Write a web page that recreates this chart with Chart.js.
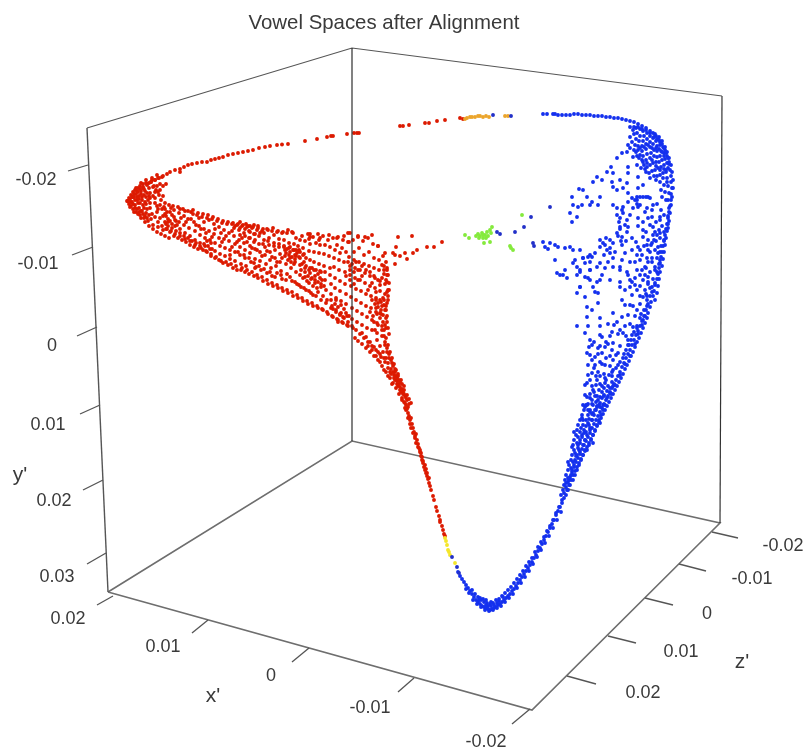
<!DOCTYPE html>
<html><head><meta charset="utf-8">
<style>html,body{margin:0;padding:0;background:#fff}canvas{display:block}</style>
<script src="https://cdn.jsdelivr.net/npm/chart.js@4/dist/chart.umd.min.js"></script>
</head><body><canvas id="c" width="804" height="754"></canvas>
<script>
const titleText = "Vowel Spaces after Alignment";
const redArc = [128,201,133,197,138,192,143,188,147,185,151,182,155,180,159,178,163,176,167,174,170,172,175,170,180,169,180,172,184,167,188,165,192,164,197,163,202,162,207,162,211,160,215,159,219,158,223,157,228,155,233,154,238,153,243,152,248,151,253,150,259,148,265,147,270,146,277,145,282,144.5,288,144,305,141,317,139,327,137,331,136,333,136,347,134,354,133,357,133,359,133,400,126,403,126,409,125,425,123,429,123,437,121,445,120,460,118,463,119];
const redTip = [128,201,129,204,130,199,131,206,132,197,132,202,133,209,134,194,135,200,135,205,136,212,137,191,137,197,138,203,139,208,140,189,140,215,141,194,142,200,142,211,143,187,143,205,144,218,145,191,146,197,147,184,147,209,148,221,149,188,150,193,150,203,151,182,152,214,153,225,154,186,155,180,155,198,156,190,157,206,158,227,158,178,160,184,161,200,162,177,163,230,164,207,165,214,130,207,134,212,138,214,141,218,145,222,149,226,153,229,157,232,161,234,165,236,169,238,146,204,150,208,153,196,158,192,163,186,166,184,150,198,144,195,139,199,136,188,141,183,146,180,152,178,157,175,160,190,163,196,160,205,157,212,160,218,165,222,168,226,172,228,176,231,180,233,184,236,188,238,192,241,196,243,200,246];
const redTipExtra = [127,201,129,198,131,195,133,192,135,190,138,188,140,186,143,184,146,183,149,183,152,180,131,202,133,204,135,208,137,209,139,212,141,211,143,214,145,216,147,218,149,215,136,194,139,196,141,191,144,189,147,193,149,196,148,200,145,202,142,197,140,203,137,200,134,197,144,208,146,213,151,219,155,217,158,222,162,226,166,229,170,232,174,236,178,238,182,240,186,242,190,245,194,247,198,249,155,203,158,209,155,192,153,187,157,186,159,195,162,209,167,212,163,216];
const redFan = [165,203,165,209,166,216,166,224,167,229,169,205,170,212,170,221,171,231,173,206,174,210,174,217,175,226,175,234,178,207,179,213,179,222,180,229,180,236,183,209,184,216,184,225,185,233,185,239,188,211,188,219,189,228,190,236,190,241,193,210,193,214,194,222,195,231,195,240,195,245,198,213,199,218,199,226,200,235,200,243,201,248,203,214,204,222,204,229,205,238,205,246,206,251,208,215,209,220,209,231,210,240,210,249,211,254,213,217,214,224,214,234,215,243,215,251,216,257,218,219,219,227,219,238,220,246,220,254,221,261,223,221,224,230,224,239,225,248,225,256,226,262,228,222,229,233,229,241,230,250,230,259,231,264,233,223,234,228,234,236,235,244,235,252,235,261,236,266,238,224,239,230,239,240,240,247,240,255,241,264,242,268,243,225,244,233,244,243,245,250,245,258,246,266,247,270,248,226,249,231,249,238,250,246,250,253,251,262,252,272,253,227,254,234,254,242,255,249,255,259,256,267,257,275,258,228,259,236,259,244,260,252,260,261,261,270,262,277,263,229,264,233,264,240,265,247,265,255,266,264,267,273,267,280,268,230,269,238,269,245,270,252,270,260,271,268,272,276,272,283,273,228,274,235,274,243,275,250,275,258,276,266,277,273,277,285,278,231,279,239,279,247,280,254,280,262,281,271,282,279,282,288,283,232,284,240,284,246,285,250,285,256,286,264,287,274,287,290,288,230,289,243,289,248,290,252,290,258,291,268,292,281,292,292,293,233,294,244,294,250,295,255,295,262,296,272,297,284,297,295,298,246,299,251,299,257,300,265,300,275,301,287,302,298,303,248,304,254,304,262,305,268,305,277,306,290,307,301,308,234,309,239,309,251,310,260,310,268,310,273,311,279,311,293,312,303,313,237,314,252,314,262,314,270,315,276,315,283,316,296,317,306,318,234,319,240,319,253,319,264,320,271,320,278,321,287,321,300,322,309,323,236,324,254,324,266,325,272,325,280,326,290,326,303,327,312,328,240,329,235,329,256,330,268,330,275,331,284,331,294,332,306,332,316,333,238,334,258,334,267,335,278,335,288,336,298,336,310,337,319,338,237,339,260,339,270,340,281,340,291,341,301,341,313,342,322,343,240,344,236,344,262,345,272,345,284,346,294,346,304,347,316,347,325,348,233,349,242,349,257,350,266,350,275,351,286,351,297,352,308,352,319,353,328,353,240,354,252,354,260,355,268,355,278,356,289,356,300,357,311,357,322,358,236,359,248,359,262,360,270,360,280,361,291,361,303,362,314,362,325,363,241,364,255,364,264,365,273,365,283,366,294,366,306,367,317,367,328,368,238,369,252,369,266,370,276,370,286,371,296,371,308,372,320,372,330,373,244,374,258,374,268,375,278,375,288,376,300,376,312,377,323,377,333,378,246,379,260,379,270,380,281,380,291,381,302,381,314,382,326,382,336,383,256,384,266,384,274,385,284,385,294,386,306,386,318,386,328,387,270,387,282,388,290,388,300];
const redLowerEdge = [203,250,207,252,211,256,215,258,219,260,223,263,228,265,233,268,237,270,241,270,245,272,249,274,254,276,258,278,263,281,268,284,273,286,278,288,283,291,288,293,293,296,298,298,303,301,308,304,313,306,318,308,323,310,328,314,333,317,338,320,343,323,348,326];
const redUpperEdge = [180,209,185,211,191,212,197,215,202,217,207,218,212,219,217,221,222,223,227,224,232,224,237,225,242,226,247,227,252,228,257,230,262,231,267,229,272,231,277,232,282,233,287,233,292,232,310,237,320,238,337,238,350,233,348,242];
const redClumps = [302,264,306,266,309,270,312,268,316,270,318,274,321,272,308,276,312,278,315,280,318,282,322,280,305,272,301,270,309,283,313,286,317,288,321,284,324,286,303,278,307,281,284,247,287,249,290,247,293,250,286,253,289,255,292,257,295,259,288,260,291,262,294,264,297,253,299,250,235,226,240,228,245,229,250,232,255,234,260,233,255,240,250,238,245,236,240,235,331,300,335,304,338,307,341,305,344,309,336,312,340,315,343,317,346,313,349,316,333,309,338,322,372,300,375,304,378,307,381,310,377,314,373,316,380,318,383,315,384,305,370,312,374,322,378,325,382,330,385,325,375,330,348,262,352,264,356,262,350,270,354,272,358,270,362,266,366,270,362,276,358,280,354,284,350,280,346,276,370,272,374,276,378,280,372,283,368,290,376,292,380,285,382,278,384,270,386,280,387,292,383,298,386,262,387,268,388,275,389,283,389,290,388,296,387,303,386,310,387,316,387,322,388,328,389,334,168,222,172,224,175,220,177,225,204,244,208,246,211,243,212,249,207,241,240,222,246,224,250,226,254,225,258,226,296,250,300,252,303,255,300,258,296,256,306,258,376,298,380,300,384,300,378,303,382,306,376,308,380,313,385,310];
const redFill = [215,229,221,233,226,236,232,231,237,242,242,238,247,242,252,248,257,250,262,256,267,251,272,257,277,262,282,258,263,244,268,241,274,246,279,244,232,247,238,252,244,255,249,258,254,263,259,266,264,269,270,272,275,277,281,275,286,280,290,277,295,282,299,285,304,288,309,291,313,295,318,292,323,296,327,300,331,308,336,300,255,268,230,255,222,242,212,237,206,233,201,229,196,225,191,219,186,222,181,218,176,221,172,215,168,219,171,208,337,245,342,248,346,252,340,253,335,250,330,247,325,245,320,245,316,243,310,244,305,241,300,240,296,238,302,236,310,234];
const redWing = [398,237,412,236,442,242,434,247,427,247,417,250,413,253,405,253,400,256,395,255,393,253,385,253,396,247,378,246,372,235,365,237,358,237,407,259,395,264,382,265,387,275];
const redRibbon = [355,338,358,341,362,344,366,348,370,352,374,356,378,360,382,366,386,372,390,378,393,383,396,388,399,394,402,398,362,333,366,337,370,342,374,347,378,352,381,357,385,362,388,368,391,374,394,378,397,384,400,390,403,394,384,336,385,342,387,348,389,354,391,360,393,366,395,372,397,378,399,384,402,389,404,394,406,398,383,322,384,330,386,338,388,345,390,352,392,358,394,364,396,370,398,376,400,382,377,340,380,346,383,352,386,358,404,402,406,405,407,409,408,413,405,408,409,416,410,420,412,424,413,428,411,418,414,432,415,436,417,440,416,434,418,444,419,448,420,452,421,456,422,460,423,463,424,467,425,470,426,473,427,476,428,479,429,483,430,486,431,490,433,496,434,500,436,507,437,511,439,516,440,520,442,526,443,530,444,534];
const redRibbonFill = [340,314,344,318,348,322,352,326,356,330,360,334,364,338,368,342,372,346,376,350,380,354,384,358,388,363,391,369,394,375,397,381,400,387,403,392,405,396,407,400,409,404,402,400,405,403,385,345,387,352,389,358,392,363,395,369,398,374,401,380,404,386,406,410,408,418,410,424,411,428,413,433,415,438,416,443,418,447,420,450,421,453,422,457,423,461,425,465,426,469,427,473,429,478,390,372,393,372,396,376,399,380,402,384,404,390,407,395,409,399,411,403,408,407,395,380,398,386,401,392,392,384,388,376,384,370,380,362,376,356,372,350,368,346];
const blueArcBottom = [458,572,460,576,462,579,464,582,466,585,468,588,470,591,472,594,474,597,476,600,478,602,480,604,482,606,484,607,486,608,488,609,490,610,492,609,494,608,496,607,498,605,500,604,502,602,504,600,506,598,508,596,510,594,512,591,514,589,516,586,518,583,520,580,522,577,524,574,526,571,528,568,530,565,532,562,534,558,536,555,538,551,540,548,542,544,544,540,546,536,548,532,550,528,552,524,554,520,556,515,558,511,560,507,562,503,564,498,472,590,475,594,478,597,481,600,484,602,487,603,490,604,493,603,496,600,499,599,502,596,505,593,508,590,511,587,514,583,517,579,520,575,523,571,526,566,529,562,532,558,535,552,538,547,541,542,544,537,547,531,550,526,553,520,556,513,559,507,480,598,483,599,486,600,488,606,491,606,494,605,497,603,466,589,469,593,473,600,477,604,481,607,485,610,489,611,493,610,497,608,501,606,505,602,509,598,513,594,517,588,521,583,525,577,529,571,533,564,537,557,541,550,545,543,549,536,553,528,557,520,561,512,479,600,486,605,491,602,499,601,503,597];
const blueWedge = [561,495,566,495,563,490,568,490,564,485,570,485,565,480,569,480,573,480,566,475,571,475,575,475,568,470,572,470,577,470,569,465,574,465,579,465,571,460,575,460,581,460,572,455,577,455,583,455,574,450,579,450,585,450,587,450,573,445,578,445,583,445,589,445,574,440,580,440,585,440,591,440,576,435,582,435,587,435,593,435,577,430,584,430,590,430,595,430,578,425,583,425,589,425,597,425,580,420,586,420,592,420,599,420,582,415,588,415,594,415,601,415,584,410,590,410,596,410,603,410,583,405,587,405,593,405,599,405,605,405,568,462,575,453,572,447,578,437,574,432,581,428,586,432,588,423,582,418,590,412,585,407,596,402,590,398,600,397,594,392,604,388,596,385,590,380,600,376,606,380,612,382,594,368,600,362,606,358,592,360,612,350,606,342,598,348,594,342,589,347,566,483,568,478,571,468,573,462,576,456,578,448,580,443,582,437,584,433,586,426,589,419,592,414,595,410,597,407,600,403,602,398,604,396,607,391,610,388,613,386,588,404,592,400,595,396,599,390,602,386,605,378,609,375,613,370,616,368,620,362,623,358,626,350,629,345,631,340,634,332,637,328,640,318,644,310,647,300];
const blueRim = [567,490,569,485,571,480,573,475,575,471,577,467,579,463,581,459,583,455,585,451,587,447,589,443,591,439,593,435,595,431,597,426,599,422,601,418,603,414,605,410,607,406,609,402,611,398,613,394,615,390,617,386,619,382,621,378,623,374,625,369,627,365,629,361,631,356,633,352,635,347,637,342,639,338,641,333,643,328,645,323,647,318,648,313,650,307,651,302,653,296,654,291,655,285,657,279,658,274,659,268,660,263,661,257,662,252,663,246,664,241,665,235,666,229,667,224,668,218,669,212,670,206,671,200,671,194,672,188,671,182,671,176,670,170,669,164,668,158,666,153,664,148,662,144,659,140,656,136,653,133,650,131,646,128,642,126,638,124,634,122,630,121,626,120,622,119,618,118,614,118,610,117,606,117,602,116,598,116,594,116,590,115,586,115,582,115,578,114,574,114,570,115,566,115,562,115,558,115,555,114,553,114,547,114,543,114,655,300,657,293,658,286,659,279,660,272,662,266,663,259,664,252,665,245,666,238,667,231,668,224,668,216,669,208,668,200,669,193,668,186,667,178,666,170,667,163];
const blueRimInner = [562,500,564,493,566,487,568,482,570,477,572,472,574,467,576,462,578,458,580,454,582,449,584,445,586,441,588,437,590,433,592,428,594,424,596,420,598,416,600,412,602,408,604,404,606,400,608,396,610,392,612,388,614,384,616,380,618,376,620,372,622,367,624,363,626,358,628,354,630,350,632,345,634,340,636,335,638,331,640,326,642,321,644,316,646,310,648,304,659,137,655,134,662,141,665,147,667,152,669,158,671,165,672,172,673,180,673,188,672,197,671,205,670,213,669,221,668,228];
const blueCrown = [630,137,633,130,636,128,634,134,637,133,640,129,643,131,640,136,644,136,647,133,650,136,647,139,643,141,639,141,636,139,632,142,635,145,638,146,642,146,646,144,650,142,653,138,656,141,653,144,650,147,646,149,642,151,638,150,634,150,630,148,628,145,657,146,660,145,657,151,654,150,651,153,647,154,643,156,640,155,637,156,633,157,661,151,664,153,660,156,657,157,654,156,650,158,646,160,642,160,665,159,662,160,659,162,656,162,653,163,650,165,647,167,644,165,664,165,661,167,658,168,655,170,652,171,649,173,666,172,663,173,660,175,657,176,654,176,650,178,646,172,641,168,637,165,630,127,634,127,638,127,642,129,646,130,650,133,654,137,657,139,660,142,663,147,665,150,667,156,669,162,664,156,662,152,659,149,656,148,652,148,648,145,644,147,640,148,636,152,639,158,643,162,647,163,652,160,656,166,660,170,664,169,668,168,663,178,667,182,664,185,660,182,656,180,661,190,665,192,662,197,666,200];
const blueUpperFan = [572,197,573,205,579,189,583,190,582,205,578,207,587,197,592,202,590,205,598,205,600,197,593,182,597,177,602,180,607,172,611,167,617,158,622,153,627,152,628,167,645,169,613,173,628,173,612,182,620,180,627,183,638,177,643,185,638,188,613,187,617,190,623,188,628,193,632,198,637,197,643,197,650,198,653,205,613,205,617,208,623,207,628,202,638,207,647,208,570,213,577,217,572,222,623,213,620,218,627,220,638,218,643,222,652,217,660,220,620,227,628,227,638,226,643,230,653,227,617,233,622,237,627,232,643,237,653,235,660,233,600,240,605,245,613,243,607,250,622,245,638,247,647,245,652,243,658,247,543,242,545,247,550,243,548,249,555,245,558,247,565,248,570,247,573,250,580,250,555,260,557,273,563,275,567,278,573,263,583,258,588,257,595,253,577,267,580,272,590,262,597,267,585,277,590,270,602,275,613,267,620,270,630,262,637,255,640,260,645,267,652,258,658,253,622,260,613,258,610,253,630,280,637,270,648,277,655,267,660,260,580,287,590,280,597,282,610,280,620,282];
const blueStreaks = [640,197,646,197,648,197,637,200,637,204,617,215,619,222,620,229,618,236,621,241,625,225,622,210,630,215,633,208,635,200,640,205,645,212,648,218,650,225,646,232,648,240,644,246,640,250,636,242,632,238,626,241,610,240,606,238,603,243,610,248,615,252,600,247,590,255,585,263,592,257,600,263,605,268,608,262,604,255,625,253,632,250,635,262,642,255,648,250,654,240,657,235,648,262,642,270,635,278,627,272,625,290,632,282,640,275,646,268];
const blueLowerFan = [565,270,560,275,575,260,583,258,580,270,577,275,590,270,588,278,600,280,580,287,577,293,585,297,593,287,595,292,598,293,598,303,587,307,592,310,587,317,600,318,577,326,588,326,600,326,608,324,585,333,590,340,602,337,612,332,587,353,595,357,602,353,617,322,622,317,613,313,620,287,622,300,630,287,628,275,620,267,630,305,637,290,643,297,637,310,643,320,633,327,623,333,628,340,620,330,613,343,605,347,618,353,613,360,588,365,592,373,598,372,605,365,612,372,587,383,597,380,605,383,593,390,602,392,610,393,587,397,598,400,607,398,588,410,593,413,600,407,583,420,592,420,600,423,580,432,590,428,577,443,585,440,593,443,580,452];
const blueRightFill = [635,285,640,286,648,284,652,287,632,295,640,296,646,294,650,296,625,305,633,306,640,304,647,306,628,315,635,316,641,314,645,316,614,325,625,326,630,324,637,326,642,325,600,335,610,336,618,334,626,336,632,335,638,334,592,345,600,346,608,344,620,346,628,345,635,344,590,355,598,354,610,356,616,355,624,354,630,356,595,365,602,364,610,366,618,365,625,364,588,375,596,376,604,374,612,376,620,375,585,385,592,386,600,384,608,386,615,385,585,395,590,394,597,396,604,395,611,394,586,405,592,404,597,406,603,405,652,210,657,204,661,210,664,215,660,217,656,222,662,226,659,230,664,232,655,232,660,238,664,240,656,241,651,245,661,246,655,250,660,252,650,252,657,258,652,262,647,258,659,264,655,270,650,272,645,275,657,272,653,279,648,282,643,280,655,283,650,288,645,290,652,292,647,296];
const blueStrays = [493,115,511,116,497,232,500,234,515,232,524,227,531,217,550,207,533,243,534,246,452,557,457,567,459,573];
const orangeBand = [465,119,470,117,475,117,480,116,483,117,489,117,505,116,508,116,467,118,472,117,478,116,486,116];
const yellowBand = [445,538,447,545,448,550,450,555,455,563,446,541,449,552];
const orangeRedDots = [440,522,445,536];
const greenCluster = [465,235,469,238,478,234,480,236,482,233,485,235,487,232,490,230,492,227,483,238,490,242,484,243,488,236,522,215,510,246,513,250,511,248,476,236,479,238,483,235,486,238,491,233];
// box frame polylines, x,y,x,y,...
const floorEdges = [108,592,532,710,720,523,352,441,108,592];
const wallTopEdge = [87,128,352,48,722,96];
const leftEdge = [87,128,108,592];
const backEdge = [352,48,352,441];
const rightEdge = [722,96,720,523];
const yTicks = [[88,165,68,171],[93,247,72,255],[97,327,77,336],[100,405,80,414],[103,480,83,490],[106,553,87,564]];
const xTicks = [[113,596,97,605],[208,620,192,633],[309,648,292,662],[414,678,398,692],[530,709,512,724]];
const zTicks = [[712,532,738,538],[679,564,706,571],[645,598,673,605],[608,636,636,643],[567,676,596,684]];
const yTickLabels = ["-0.02","-0.01","0","0.01","0.02","0.03"];
const xTickLabels = ["0.02","0.01","0","-0.01","-0.02"];
const zTickLabels = ["-0.02","-0.01","0","0.01","0.02"];
const axisNames = ["x'","y'","z'"];
const yLabelAt = [[36,180],[38,264],[52,346],[48,425],[54,501],[57,577]];
const xLabelAt = [[68,619],[163,647],[271,676],[370,708],[486,742]];
const zLabelAt = [[783,546],[752,579],[707,614],[681,652],[643,693]];
const axisNameAt = [[213,696],[20,475],[742,662]];

const RED="#dc1a00",BLUE="#1430ee",ORANGE="#eba52c",YELLOW="#f4e62a",GREEN="#84ea3c",INK="#555";
const pairs=a=>{const o=[];for(let i=0;i<a.length;i+=2)o.push({x:a[i],y:a[i+1]});return o};
const cloud=(arr,color,order)=>({type:"scatter",data:pairs(arr),pointRadius:1.95,pointBackgroundColor:color,pointBorderWidth:0,showLine:false,order});
const line=(arr,width,order,color=INK)=>({type:"scatter",data:pairs(arr),showLine:true,borderColor:color,borderWidth:width,pointRadius:0,order,fill:false});
const labelsPlugin={id:"boxLabels",afterDraw(c){
 const g=c.ctx,sx=c.scales.x,sy=c.scales.y;
 g.save();g.fillStyle="#3a3a3a";g.textAlign="center";g.textBaseline="middle";g.font='18px "Liberation Sans"';
 const put=(t,p)=>g.fillText(t,sx.getPixelForValue(p[0]),sy.getPixelForValue(p[1]));
 yTickLabels.forEach((t,i)=>put(t,yLabelAt[i]));
 xTickLabels.forEach((t,i)=>put(t,xLabelAt[i]));
 zTickLabels.forEach((t,i)=>put(t,zLabelAt[i]));
 g.font='21px "Liberation Sans"';
 axisNames.forEach((t,i)=>put(t,axisNameAt[i]));
 g.restore();
}};
const allRed=[redArc,redTip,redTipExtra,redFan,redLowerEdge,redUpperEdge,redClumps,redFill,redWing,redRibbon,redRibbonFill,orangeRedDots];
const allBlue=[blueArcBottom,blueWedge,blueRim,blueRimInner,blueCrown,blueUpperFan,blueStreaks,blueLowerFan,blueRightFill];
new Chart(document.getElementById("c"),{
 data:{datasets:[
  line(floorEdges,1.6,20,"#6e6e6e"),
  line(wallTopEdge,1.2,19),
  line(leftEdge,1.4,19),
  line(rightEdge,1.2,19,"#333"),
  ...yTicks.map(t=>line(t,1.3,19)),
  ...xTicks.map(t=>line(t,1.3,19)),
  ...zTicks.map(t=>line(t,1.3,19)),
  ...allRed.map(a=>cloud(a,RED,9)),
  ...allBlue.map(a=>cloud(a,BLUE,8)),
  cloud(orangeBand,ORANGE,7),cloud(yellowBand,YELLOW,7),cloud(blueStrays,"#2230c8",6),cloud(greenCluster,GREEN,6),
  line(backEdge,1.2,1,"#2f2f2f")
 ]},
 options:{responsive:false,animation:false,events:[],
  layout:{autoPadding:false,padding:{left:0,right:36,top:0,bottom:0}},
  plugins:{legend:{display:false},tooltip:{enabled:false},
   title:{display:true,fullSize:false,text:titleText,color:"#3a3a3a",font:{family:'"Liberation Sans"',size:20.4,weight:"normal",lineHeight:1.2},padding:{top:11,bottom:0.52}}},
  scales:{x:{type:"linear",display:false,min:0,max:768},y:{type:"linear",display:false,min:36,max:754,reverse:true}}
 },
 plugins:[labelsPlugin]
});
</script></body></html>
